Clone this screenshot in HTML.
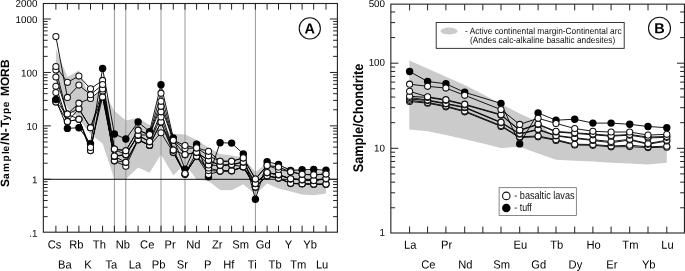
<!DOCTYPE html>
<html lang="en"><head><meta charset="utf-8"><title>Trace element diagrams</title>
<style>html,body{margin:0;padding:0;background:#fff}svg{display:block}</style></head>
<body>
<svg width="685" height="271" viewBox="0 0 685 271" font-family="'Liberation Sans', sans-serif" text-rendering="geometricPrecision">
<rect x="0" y="0" width="685" height="271" fill="#ffffff"/>
<polygon fill="#cbcbcb" points="55.9,49 67.4,77 78.9,70.4 90.5,99 102.6,90 114.4,110.8 125.8,120.4 138.1,117.8 149.6,125 161,129 173.3,133.8 185,134.6 196.6,139.7 208.5,147.5 220.1,154 231.6,155.5 243.3,157.5 255.4,172 267.1,163 278.5,166 290.6,168 302.1,170 313.7,171 326,172 326,193.4 313.7,195.2 302.1,194.5 290.6,191.5 278.5,188.6 267.1,183.4 255.4,194.5 243.3,184.2 231.6,190.3 220.1,190 208.5,181 196.6,179.5 185,164 173.3,175.5 161,154.5 149.6,172.7 138.1,167.5 125.8,179.3 114.4,179.3 102.6,143.5 90.5,134 78.9,119 67.4,108 55.9,84"/>
<line x1="114.4" y1="3.5" x2="114.4" y2="232.2" stroke="#989898" stroke-width="1"/>
<line x1="125.8" y1="3.5" x2="125.8" y2="232.2" stroke="#989898" stroke-width="1"/>
<line x1="161" y1="3.5" x2="161" y2="232.2" stroke="#989898" stroke-width="1"/>
<line x1="185" y1="3.5" x2="185" y2="232.2" stroke="#989898" stroke-width="1"/>
<line x1="255.4" y1="3.5" x2="255.4" y2="232.2" stroke="#989898" stroke-width="1"/>
<line x1="43.35" y1="179.3" x2="337.4" y2="179.3" stroke="#111" stroke-width="1"/>
<rect x="43.35" y="3.5" width="294.05" height="228.7" fill="none" stroke="#222" stroke-width="1.1"/>
<path d="M55.9,3.5v6.2M55.9,232.2v-6.5M67.4,3.5v6.2M67.4,232.2v-6.5M78.9,3.5v6.2M78.9,232.2v-6.5M90.5,3.5v6.2M90.5,232.2v-6.5M102.6,3.5v6.2M102.6,232.2v-6.5M114.4,3.5v6.2M114.4,232.2v-6.5M125.8,3.5v6.2M125.8,232.2v-6.5M138.1,3.5v6.2M138.1,232.2v-6.5M149.6,3.5v6.2M149.6,232.2v-6.5M161,3.5v6.2M161,232.2v-6.5M173.3,3.5v6.2M173.3,232.2v-6.5M185,3.5v6.2M185,232.2v-6.5M196.6,3.5v6.2M196.6,232.2v-6.5M208.5,3.5v6.2M208.5,232.2v-6.5M220.1,3.5v6.2M220.1,232.2v-6.5M231.6,3.5v6.2M231.6,232.2v-6.5M243.3,3.5v6.2M243.3,232.2v-6.5M255.4,3.5v6.2M255.4,232.2v-6.5M267.1,3.5v6.2M267.1,232.2v-6.5M278.5,3.5v6.2M278.5,232.2v-6.5M290.6,3.5v6.2M290.6,232.2v-6.5M302.1,3.5v6.2M302.1,232.2v-6.5M313.7,3.5v6.2M313.7,232.2v-6.5M326,3.5v6.2M326,232.2v-6.5M43.35,216.65h4.3M337.4,216.65h-4.3M43.35,207.24h4.3M337.4,207.24h-4.3M43.35,200.56h4.3M337.4,200.56h-4.3M43.35,195.38h4.3M337.4,195.38h-4.3M43.35,191.15h4.3M337.4,191.15h-4.3M43.35,187.58h4.3M337.4,187.58h-4.3M43.35,184.48h4.3M337.4,184.48h-4.3M43.35,181.74h4.3M337.4,181.74h-4.3M43.35,179.3h7.5M337.4,179.3h-7.5M43.35,163.22h4.3M337.4,163.22h-4.3M43.35,153.81h4.3M337.4,153.81h-4.3M43.35,147.13h4.3M337.4,147.13h-4.3M43.35,141.95h4.3M337.4,141.95h-4.3M43.35,137.72h4.3M337.4,137.72h-4.3M43.35,134.15h4.3M337.4,134.15h-4.3M43.35,131.05h4.3M337.4,131.05h-4.3M43.35,128.31h4.3M337.4,128.31h-4.3M43.35,125.87h7.5M337.4,125.87h-7.5M43.35,109.79h4.3M337.4,109.79h-4.3M43.35,100.38h4.3M337.4,100.38h-4.3M43.35,93.7h4.3M337.4,93.7h-4.3M43.35,88.52h4.3M337.4,88.52h-4.3M43.35,84.29h4.3M337.4,84.29h-4.3M43.35,80.72h4.3M337.4,80.72h-4.3M43.35,77.62h4.3M337.4,77.62h-4.3M43.35,74.88h4.3M337.4,74.88h-4.3M43.35,72.44h7.5M337.4,72.44h-7.5M43.35,56.36h4.3M337.4,56.36h-4.3M43.35,46.95h4.3M337.4,46.95h-4.3M43.35,40.27h4.3M337.4,40.27h-4.3M43.35,35.09h4.3M337.4,35.09h-4.3M43.35,30.86h4.3M337.4,30.86h-4.3M43.35,27.29h4.3M337.4,27.29h-4.3M43.35,24.19h4.3M337.4,24.19h-4.3M43.35,21.45h4.3M337.4,21.45h-4.3M43.35,19.01h7.5M337.4,19.01h-7.5" stroke="#222" stroke-width="1" fill="none"/>
<polyline points="55.9,99.6 67.4,128.4 78.9,127.7 90.5,143.8 102.6,68.4 114.4,134 125.8,139 138.1,122 149.6,131.6 161,84.7 173.3,138 185,169.2 196.6,144.2 208.5,176.8 220.1,142.7 231.6,143.1 243.3,153.9 255.4,199.2 267.1,161.8 278.5,164.4 290.6,170.5 302.1,169.8 313.7,169.4 326,170.3" fill="none" stroke="#000" stroke-width="0.9"/>
<circle cx="55.9" cy="99.6" r="3.7" fill="#000"/>
<circle cx="67.4" cy="128.4" r="3.7" fill="#000"/>
<circle cx="78.9" cy="127.7" r="3.7" fill="#000"/>
<circle cx="90.5" cy="143.8" r="3.7" fill="#000"/>
<circle cx="102.6" cy="68.4" r="3.7" fill="#000"/>
<circle cx="114.4" cy="134" r="3.7" fill="#000"/>
<circle cx="125.8" cy="139" r="3.7" fill="#000"/>
<circle cx="138.1" cy="122" r="3.7" fill="#000"/>
<circle cx="149.6" cy="131.6" r="3.7" fill="#000"/>
<circle cx="161" cy="84.7" r="3.7" fill="#000"/>
<circle cx="173.3" cy="138" r="3.7" fill="#000"/>
<circle cx="185" cy="169.2" r="3.7" fill="#000"/>
<circle cx="196.6" cy="144.2" r="3.7" fill="#000"/>
<circle cx="208.5" cy="176.8" r="3.7" fill="#000"/>
<circle cx="220.1" cy="142.7" r="3.7" fill="#000"/>
<circle cx="231.6" cy="143.1" r="3.7" fill="#000"/>
<circle cx="243.3" cy="153.9" r="3.7" fill="#000"/>
<circle cx="255.4" cy="199.2" r="3.7" fill="#000"/>
<circle cx="267.1" cy="161.8" r="3.7" fill="#000"/>
<circle cx="278.5" cy="164.4" r="3.7" fill="#000"/>
<circle cx="290.6" cy="170.5" r="3.7" fill="#000"/>
<circle cx="302.1" cy="169.8" r="3.7" fill="#000"/>
<circle cx="313.7" cy="169.4" r="3.7" fill="#000"/>
<circle cx="326" cy="170.3" r="3.7" fill="#000"/>
<polyline points="55.9,102 67.4,114.1 78.9,119.3 90.5,150.6 102.6,89 114.4,161 125.8,166.2 138.1,140 149.6,145.5 161,132.7 173.3,152.6 185,174.3 196.6,156.6 208.5,174.4 220.1,171.3 231.6,171 243.3,167 255.4,187.3 267.1,176 278.5,178.3 290.6,183.6 302.1,184 313.7,184.4 326,184.4" fill="none" stroke="#000" stroke-width="0.9"/>
<polyline points="55.9,102 67.4,121.5 78.9,119.3 90.5,150.6 102.6,91 114.4,160.6 125.8,162.3 138.1,139.6 149.6,145.5 161,122.6 173.3,152.3 185,174.3 196.6,156.3 208.5,170.6 220.1,171 231.6,170.7 243.3,167 255.4,187 267.1,175.8 278.5,178 290.6,183.3 302.1,183.7 313.7,184.1 326,184.1" fill="none" stroke="#000" stroke-width="0.9"/>
<polyline points="55.9,92.5 67.4,121.5 78.9,119.3 90.5,147.4 102.6,97 114.4,156.4 125.8,162.3 138.1,139.6 149.6,145 161,122.1 173.3,150.3 185,174.3 196.6,156.3 208.5,168 220.1,171 231.6,170.7 243.3,166.7 255.4,187 267.1,175.8 278.5,178 290.6,183.3 302.1,183.7 313.7,184.1 326,184.1" fill="none" stroke="#000" stroke-width="0.9"/>
<polyline points="55.9,86.3 67.4,121.5 78.9,108.8 90.5,127.7 102.6,97 114.4,156.4 125.8,154.9 138.1,135.3 149.6,142 161,117 173.3,150 185,173.6 196.6,152.6 208.5,165 220.1,165.6 231.6,164.8 243.3,166.7 255.4,183.7 267.1,172.8 278.5,174.9 290.6,179.1 302.1,179.9 313.7,180.7 326,178.9" fill="none" stroke="#000" stroke-width="0.9"/>
<polyline points="55.9,77 67.4,114.1 78.9,108.8 90.5,127.7 102.6,91 114.4,156 125.8,154.5 138.1,135.3 149.6,141.6 161,111.8 173.3,150 185,154.8 196.6,152.3 208.5,160.6 220.1,165.3 231.6,164.8 243.3,162.3 255.4,183.4 267.1,172.5 278.5,174.6 290.6,178.8 302.1,179.6 313.7,180.4 326,178.6" fill="none" stroke="#000" stroke-width="0.9"/>
<polyline points="55.9,69.9 67.4,114.1 78.9,103.2 90.5,98.4 102.6,89 114.4,149.5 125.8,154.5 138.1,135 149.6,135 161,106.3 173.3,140.5 185,154.5 196.6,152.3 208.5,160.3 220.1,165.3 231.6,164.5 243.3,162 255.4,183.4 267.1,172.5 278.5,174.6 290.6,178.8 302.1,179.6 313.7,180.4 326,178.6" fill="none" stroke="#000" stroke-width="0.9"/>
<polyline points="55.9,66.5 67.4,82.3 78.9,76.1 90.5,88.8 102.6,80.4 114.4,149.1 125.8,150.7 138.1,130.2 149.6,135 161,101.3 173.3,140.5 185,148.6 196.6,147.9 208.5,155.8 220.1,161.2 231.6,161.3 243.3,157.9 255.4,179 267.1,165.4 278.5,169.4 290.6,171.8 302.1,174.3 313.7,174.9 326,174" fill="none" stroke="#000" stroke-width="0.9"/>
<polyline points="55.9,36.6 67.4,97.4 78.9,85.1 90.5,94.7 102.6,84.5 114.4,149.1 125.8,150.7 138.1,130.2 149.6,134.6 161,93.2 173.3,140.2 185,145.6 196.6,147.9 208.5,151.3 220.1,161.2 231.6,161.3 243.3,157.9 255.4,179 267.1,165.4 278.5,167.1 290.6,171.8 302.1,174.3 313.7,174.9 326,174" fill="none" stroke="#000" stroke-width="0.9"/>
<circle cx="55.9" cy="102" r="3.05" fill="#fff" stroke="#111" stroke-width="1.05"/>
<circle cx="67.4" cy="114.1" r="3.05" fill="#fff" stroke="#111" stroke-width="1.05"/>
<circle cx="78.9" cy="119.3" r="3.05" fill="#fff" stroke="#111" stroke-width="1.05"/>
<circle cx="90.5" cy="150.6" r="3.05" fill="#fff" stroke="#111" stroke-width="1.05"/>
<circle cx="102.6" cy="89" r="3.05" fill="#fff" stroke="#111" stroke-width="1.05"/>
<circle cx="114.4" cy="161" r="3.05" fill="#fff" stroke="#111" stroke-width="1.05"/>
<circle cx="125.8" cy="166.2" r="3.05" fill="#fff" stroke="#111" stroke-width="1.05"/>
<circle cx="138.1" cy="140" r="3.05" fill="#fff" stroke="#111" stroke-width="1.05"/>
<circle cx="149.6" cy="145.5" r="3.05" fill="#fff" stroke="#111" stroke-width="1.05"/>
<circle cx="161" cy="132.7" r="3.05" fill="#fff" stroke="#111" stroke-width="1.05"/>
<circle cx="173.3" cy="152.6" r="3.05" fill="#fff" stroke="#111" stroke-width="1.05"/>
<circle cx="185" cy="174.3" r="3.05" fill="#fff" stroke="#111" stroke-width="1.05"/>
<circle cx="196.6" cy="156.6" r="3.05" fill="#fff" stroke="#111" stroke-width="1.05"/>
<circle cx="208.5" cy="174.4" r="3.05" fill="#fff" stroke="#111" stroke-width="1.05"/>
<circle cx="220.1" cy="171.3" r="3.05" fill="#fff" stroke="#111" stroke-width="1.05"/>
<circle cx="231.6" cy="171" r="3.05" fill="#fff" stroke="#111" stroke-width="1.05"/>
<circle cx="243.3" cy="167" r="3.05" fill="#fff" stroke="#111" stroke-width="1.05"/>
<circle cx="255.4" cy="187.3" r="3.05" fill="#fff" stroke="#111" stroke-width="1.05"/>
<circle cx="267.1" cy="176" r="3.05" fill="#fff" stroke="#111" stroke-width="1.05"/>
<circle cx="278.5" cy="178.3" r="3.05" fill="#fff" stroke="#111" stroke-width="1.05"/>
<circle cx="290.6" cy="183.6" r="3.05" fill="#fff" stroke="#111" stroke-width="1.05"/>
<circle cx="302.1" cy="184" r="3.05" fill="#fff" stroke="#111" stroke-width="1.05"/>
<circle cx="313.7" cy="184.4" r="3.05" fill="#fff" stroke="#111" stroke-width="1.05"/>
<circle cx="326" cy="184.4" r="3.05" fill="#fff" stroke="#111" stroke-width="1.05"/>
<circle cx="55.9" cy="102" r="3.05" fill="#fff" stroke="#111" stroke-width="1.05"/>
<circle cx="67.4" cy="121.5" r="3.05" fill="#fff" stroke="#111" stroke-width="1.05"/>
<circle cx="78.9" cy="119.3" r="3.05" fill="#fff" stroke="#111" stroke-width="1.05"/>
<circle cx="90.5" cy="150.6" r="3.05" fill="#fff" stroke="#111" stroke-width="1.05"/>
<circle cx="102.6" cy="91" r="3.05" fill="#fff" stroke="#111" stroke-width="1.05"/>
<circle cx="114.4" cy="160.6" r="3.05" fill="#fff" stroke="#111" stroke-width="1.05"/>
<circle cx="125.8" cy="162.3" r="3.05" fill="#fff" stroke="#111" stroke-width="1.05"/>
<circle cx="138.1" cy="139.6" r="3.05" fill="#fff" stroke="#111" stroke-width="1.05"/>
<circle cx="149.6" cy="145.5" r="3.05" fill="#fff" stroke="#111" stroke-width="1.05"/>
<circle cx="161" cy="122.6" r="3.05" fill="#fff" stroke="#111" stroke-width="1.05"/>
<circle cx="173.3" cy="152.3" r="3.05" fill="#fff" stroke="#111" stroke-width="1.05"/>
<circle cx="185" cy="174.3" r="3.05" fill="#fff" stroke="#111" stroke-width="1.05"/>
<circle cx="196.6" cy="156.3" r="3.05" fill="#fff" stroke="#111" stroke-width="1.05"/>
<circle cx="208.5" cy="170.6" r="3.05" fill="#fff" stroke="#111" stroke-width="1.05"/>
<circle cx="220.1" cy="171" r="3.05" fill="#fff" stroke="#111" stroke-width="1.05"/>
<circle cx="231.6" cy="170.7" r="3.05" fill="#fff" stroke="#111" stroke-width="1.05"/>
<circle cx="243.3" cy="167" r="3.05" fill="#fff" stroke="#111" stroke-width="1.05"/>
<circle cx="255.4" cy="187" r="3.05" fill="#fff" stroke="#111" stroke-width="1.05"/>
<circle cx="267.1" cy="175.8" r="3.05" fill="#fff" stroke="#111" stroke-width="1.05"/>
<circle cx="278.5" cy="178" r="3.05" fill="#fff" stroke="#111" stroke-width="1.05"/>
<circle cx="290.6" cy="183.3" r="3.05" fill="#fff" stroke="#111" stroke-width="1.05"/>
<circle cx="302.1" cy="183.7" r="3.05" fill="#fff" stroke="#111" stroke-width="1.05"/>
<circle cx="313.7" cy="184.1" r="3.05" fill="#fff" stroke="#111" stroke-width="1.05"/>
<circle cx="326" cy="184.1" r="3.05" fill="#fff" stroke="#111" stroke-width="1.05"/>
<circle cx="55.9" cy="92.5" r="3.05" fill="#fff" stroke="#111" stroke-width="1.05"/>
<circle cx="67.4" cy="121.5" r="3.05" fill="#fff" stroke="#111" stroke-width="1.05"/>
<circle cx="78.9" cy="119.3" r="3.05" fill="#fff" stroke="#111" stroke-width="1.05"/>
<circle cx="90.5" cy="147.4" r="3.05" fill="#fff" stroke="#111" stroke-width="1.05"/>
<circle cx="102.6" cy="97" r="3.05" fill="#fff" stroke="#111" stroke-width="1.05"/>
<circle cx="114.4" cy="156.4" r="3.05" fill="#fff" stroke="#111" stroke-width="1.05"/>
<circle cx="125.8" cy="162.3" r="3.05" fill="#fff" stroke="#111" stroke-width="1.05"/>
<circle cx="138.1" cy="139.6" r="3.05" fill="#fff" stroke="#111" stroke-width="1.05"/>
<circle cx="149.6" cy="145" r="3.05" fill="#fff" stroke="#111" stroke-width="1.05"/>
<circle cx="161" cy="122.1" r="3.05" fill="#fff" stroke="#111" stroke-width="1.05"/>
<circle cx="173.3" cy="150.3" r="3.05" fill="#fff" stroke="#111" stroke-width="1.05"/>
<circle cx="185" cy="174.3" r="3.05" fill="#fff" stroke="#111" stroke-width="1.05"/>
<circle cx="196.6" cy="156.3" r="3.05" fill="#fff" stroke="#111" stroke-width="1.05"/>
<circle cx="208.5" cy="168" r="3.05" fill="#fff" stroke="#111" stroke-width="1.05"/>
<circle cx="220.1" cy="171" r="3.05" fill="#fff" stroke="#111" stroke-width="1.05"/>
<circle cx="231.6" cy="170.7" r="3.05" fill="#fff" stroke="#111" stroke-width="1.05"/>
<circle cx="243.3" cy="166.7" r="3.05" fill="#fff" stroke="#111" stroke-width="1.05"/>
<circle cx="255.4" cy="187" r="3.05" fill="#fff" stroke="#111" stroke-width="1.05"/>
<circle cx="267.1" cy="175.8" r="3.05" fill="#fff" stroke="#111" stroke-width="1.05"/>
<circle cx="278.5" cy="178" r="3.05" fill="#fff" stroke="#111" stroke-width="1.05"/>
<circle cx="290.6" cy="183.3" r="3.05" fill="#fff" stroke="#111" stroke-width="1.05"/>
<circle cx="302.1" cy="183.7" r="3.05" fill="#fff" stroke="#111" stroke-width="1.05"/>
<circle cx="313.7" cy="184.1" r="3.05" fill="#fff" stroke="#111" stroke-width="1.05"/>
<circle cx="326" cy="184.1" r="3.05" fill="#fff" stroke="#111" stroke-width="1.05"/>
<circle cx="55.9" cy="86.3" r="3.05" fill="#fff" stroke="#111" stroke-width="1.05"/>
<circle cx="67.4" cy="121.5" r="3.05" fill="#fff" stroke="#111" stroke-width="1.05"/>
<circle cx="78.9" cy="108.8" r="3.05" fill="#fff" stroke="#111" stroke-width="1.05"/>
<circle cx="90.5" cy="127.7" r="3.05" fill="#fff" stroke="#111" stroke-width="1.05"/>
<circle cx="102.6" cy="97" r="3.05" fill="#fff" stroke="#111" stroke-width="1.05"/>
<circle cx="114.4" cy="156.4" r="3.05" fill="#fff" stroke="#111" stroke-width="1.05"/>
<circle cx="125.8" cy="154.9" r="3.05" fill="#fff" stroke="#111" stroke-width="1.05"/>
<circle cx="138.1" cy="135.3" r="3.05" fill="#fff" stroke="#111" stroke-width="1.05"/>
<circle cx="149.6" cy="142" r="3.05" fill="#fff" stroke="#111" stroke-width="1.05"/>
<circle cx="161" cy="117" r="3.05" fill="#fff" stroke="#111" stroke-width="1.05"/>
<circle cx="173.3" cy="150" r="3.05" fill="#fff" stroke="#111" stroke-width="1.05"/>
<circle cx="185" cy="173.6" r="3.05" fill="#fff" stroke="#111" stroke-width="1.05"/>
<circle cx="196.6" cy="152.6" r="3.05" fill="#fff" stroke="#111" stroke-width="1.05"/>
<circle cx="208.5" cy="165" r="3.05" fill="#fff" stroke="#111" stroke-width="1.05"/>
<circle cx="220.1" cy="165.6" r="3.05" fill="#fff" stroke="#111" stroke-width="1.05"/>
<circle cx="231.6" cy="164.8" r="3.05" fill="#fff" stroke="#111" stroke-width="1.05"/>
<circle cx="243.3" cy="166.7" r="3.05" fill="#fff" stroke="#111" stroke-width="1.05"/>
<circle cx="255.4" cy="183.7" r="3.05" fill="#fff" stroke="#111" stroke-width="1.05"/>
<circle cx="267.1" cy="172.8" r="3.05" fill="#fff" stroke="#111" stroke-width="1.05"/>
<circle cx="278.5" cy="174.9" r="3.05" fill="#fff" stroke="#111" stroke-width="1.05"/>
<circle cx="290.6" cy="179.1" r="3.05" fill="#fff" stroke="#111" stroke-width="1.05"/>
<circle cx="302.1" cy="179.9" r="3.05" fill="#fff" stroke="#111" stroke-width="1.05"/>
<circle cx="313.7" cy="180.7" r="3.05" fill="#fff" stroke="#111" stroke-width="1.05"/>
<circle cx="326" cy="178.9" r="3.05" fill="#fff" stroke="#111" stroke-width="1.05"/>
<circle cx="55.9" cy="77" r="3.05" fill="#fff" stroke="#111" stroke-width="1.05"/>
<circle cx="67.4" cy="114.1" r="3.05" fill="#fff" stroke="#111" stroke-width="1.05"/>
<circle cx="78.9" cy="108.8" r="3.05" fill="#fff" stroke="#111" stroke-width="1.05"/>
<circle cx="90.5" cy="127.7" r="3.05" fill="#fff" stroke="#111" stroke-width="1.05"/>
<circle cx="102.6" cy="91" r="3.05" fill="#fff" stroke="#111" stroke-width="1.05"/>
<circle cx="114.4" cy="156" r="3.05" fill="#fff" stroke="#111" stroke-width="1.05"/>
<circle cx="125.8" cy="154.5" r="3.05" fill="#fff" stroke="#111" stroke-width="1.05"/>
<circle cx="138.1" cy="135.3" r="3.05" fill="#fff" stroke="#111" stroke-width="1.05"/>
<circle cx="149.6" cy="141.6" r="3.05" fill="#fff" stroke="#111" stroke-width="1.05"/>
<circle cx="161" cy="111.8" r="3.05" fill="#fff" stroke="#111" stroke-width="1.05"/>
<circle cx="173.3" cy="150" r="3.05" fill="#fff" stroke="#111" stroke-width="1.05"/>
<circle cx="185" cy="154.8" r="3.05" fill="#fff" stroke="#111" stroke-width="1.05"/>
<circle cx="196.6" cy="152.3" r="3.05" fill="#fff" stroke="#111" stroke-width="1.05"/>
<circle cx="208.5" cy="160.6" r="3.05" fill="#fff" stroke="#111" stroke-width="1.05"/>
<circle cx="220.1" cy="165.3" r="3.05" fill="#fff" stroke="#111" stroke-width="1.05"/>
<circle cx="231.6" cy="164.8" r="3.05" fill="#fff" stroke="#111" stroke-width="1.05"/>
<circle cx="243.3" cy="162.3" r="3.05" fill="#fff" stroke="#111" stroke-width="1.05"/>
<circle cx="255.4" cy="183.4" r="3.05" fill="#fff" stroke="#111" stroke-width="1.05"/>
<circle cx="267.1" cy="172.5" r="3.05" fill="#fff" stroke="#111" stroke-width="1.05"/>
<circle cx="278.5" cy="174.6" r="3.05" fill="#fff" stroke="#111" stroke-width="1.05"/>
<circle cx="290.6" cy="178.8" r="3.05" fill="#fff" stroke="#111" stroke-width="1.05"/>
<circle cx="302.1" cy="179.6" r="3.05" fill="#fff" stroke="#111" stroke-width="1.05"/>
<circle cx="313.7" cy="180.4" r="3.05" fill="#fff" stroke="#111" stroke-width="1.05"/>
<circle cx="326" cy="178.6" r="3.05" fill="#fff" stroke="#111" stroke-width="1.05"/>
<circle cx="55.9" cy="69.9" r="3.05" fill="#fff" stroke="#111" stroke-width="1.05"/>
<circle cx="67.4" cy="114.1" r="3.05" fill="#fff" stroke="#111" stroke-width="1.05"/>
<circle cx="78.9" cy="103.2" r="3.05" fill="#fff" stroke="#111" stroke-width="1.05"/>
<circle cx="90.5" cy="98.4" r="3.05" fill="#fff" stroke="#111" stroke-width="1.05"/>
<circle cx="102.6" cy="89" r="3.05" fill="#fff" stroke="#111" stroke-width="1.05"/>
<circle cx="114.4" cy="149.5" r="3.05" fill="#fff" stroke="#111" stroke-width="1.05"/>
<circle cx="125.8" cy="154.5" r="3.05" fill="#fff" stroke="#111" stroke-width="1.05"/>
<circle cx="138.1" cy="135" r="3.05" fill="#fff" stroke="#111" stroke-width="1.05"/>
<circle cx="149.6" cy="135" r="3.05" fill="#fff" stroke="#111" stroke-width="1.05"/>
<circle cx="161" cy="106.3" r="3.05" fill="#fff" stroke="#111" stroke-width="1.05"/>
<circle cx="173.3" cy="140.5" r="3.05" fill="#fff" stroke="#111" stroke-width="1.05"/>
<circle cx="185" cy="154.5" r="3.05" fill="#fff" stroke="#111" stroke-width="1.05"/>
<circle cx="196.6" cy="152.3" r="3.05" fill="#fff" stroke="#111" stroke-width="1.05"/>
<circle cx="208.5" cy="160.3" r="3.05" fill="#fff" stroke="#111" stroke-width="1.05"/>
<circle cx="220.1" cy="165.3" r="3.05" fill="#fff" stroke="#111" stroke-width="1.05"/>
<circle cx="231.6" cy="164.5" r="3.05" fill="#fff" stroke="#111" stroke-width="1.05"/>
<circle cx="243.3" cy="162" r="3.05" fill="#fff" stroke="#111" stroke-width="1.05"/>
<circle cx="255.4" cy="183.4" r="3.05" fill="#fff" stroke="#111" stroke-width="1.05"/>
<circle cx="267.1" cy="172.5" r="3.05" fill="#fff" stroke="#111" stroke-width="1.05"/>
<circle cx="278.5" cy="174.6" r="3.05" fill="#fff" stroke="#111" stroke-width="1.05"/>
<circle cx="290.6" cy="178.8" r="3.05" fill="#fff" stroke="#111" stroke-width="1.05"/>
<circle cx="302.1" cy="179.6" r="3.05" fill="#fff" stroke="#111" stroke-width="1.05"/>
<circle cx="313.7" cy="180.4" r="3.05" fill="#fff" stroke="#111" stroke-width="1.05"/>
<circle cx="326" cy="178.6" r="3.05" fill="#fff" stroke="#111" stroke-width="1.05"/>
<circle cx="55.9" cy="66.5" r="3.05" fill="#fff" stroke="#111" stroke-width="1.05"/>
<circle cx="67.4" cy="82.3" r="3.05" fill="#fff" stroke="#111" stroke-width="1.05"/>
<circle cx="78.9" cy="76.1" r="3.05" fill="#fff" stroke="#111" stroke-width="1.05"/>
<circle cx="90.5" cy="88.8" r="3.05" fill="#fff" stroke="#111" stroke-width="1.05"/>
<circle cx="102.6" cy="80.4" r="3.05" fill="#fff" stroke="#111" stroke-width="1.05"/>
<circle cx="114.4" cy="149.1" r="3.05" fill="#fff" stroke="#111" stroke-width="1.05"/>
<circle cx="125.8" cy="150.7" r="3.05" fill="#fff" stroke="#111" stroke-width="1.05"/>
<circle cx="138.1" cy="130.2" r="3.05" fill="#fff" stroke="#111" stroke-width="1.05"/>
<circle cx="149.6" cy="135" r="3.05" fill="#fff" stroke="#111" stroke-width="1.05"/>
<circle cx="161" cy="101.3" r="3.05" fill="#fff" stroke="#111" stroke-width="1.05"/>
<circle cx="173.3" cy="140.5" r="3.05" fill="#fff" stroke="#111" stroke-width="1.05"/>
<circle cx="185" cy="148.6" r="3.05" fill="#fff" stroke="#111" stroke-width="1.05"/>
<circle cx="196.6" cy="147.9" r="3.05" fill="#fff" stroke="#111" stroke-width="1.05"/>
<circle cx="208.5" cy="155.8" r="3.05" fill="#fff" stroke="#111" stroke-width="1.05"/>
<circle cx="220.1" cy="161.2" r="3.05" fill="#fff" stroke="#111" stroke-width="1.05"/>
<circle cx="231.6" cy="161.3" r="3.05" fill="#fff" stroke="#111" stroke-width="1.05"/>
<circle cx="243.3" cy="157.9" r="3.05" fill="#fff" stroke="#111" stroke-width="1.05"/>
<circle cx="255.4" cy="179" r="3.05" fill="#fff" stroke="#111" stroke-width="1.05"/>
<circle cx="267.1" cy="165.4" r="3.05" fill="#fff" stroke="#111" stroke-width="1.05"/>
<circle cx="278.5" cy="169.4" r="3.05" fill="#fff" stroke="#111" stroke-width="1.05"/>
<circle cx="290.6" cy="171.8" r="3.05" fill="#fff" stroke="#111" stroke-width="1.05"/>
<circle cx="302.1" cy="174.3" r="3.05" fill="#fff" stroke="#111" stroke-width="1.05"/>
<circle cx="313.7" cy="174.9" r="3.05" fill="#fff" stroke="#111" stroke-width="1.05"/>
<circle cx="326" cy="174" r="3.05" fill="#fff" stroke="#111" stroke-width="1.05"/>
<circle cx="55.9" cy="36.6" r="3.05" fill="#fff" stroke="#111" stroke-width="1.05"/>
<circle cx="67.4" cy="97.4" r="3.05" fill="#fff" stroke="#111" stroke-width="1.05"/>
<circle cx="78.9" cy="85.1" r="3.05" fill="#fff" stroke="#111" stroke-width="1.05"/>
<circle cx="90.5" cy="94.7" r="3.05" fill="#fff" stroke="#111" stroke-width="1.05"/>
<circle cx="102.6" cy="84.5" r="3.05" fill="#fff" stroke="#111" stroke-width="1.05"/>
<circle cx="114.4" cy="149.1" r="3.05" fill="#fff" stroke="#111" stroke-width="1.05"/>
<circle cx="125.8" cy="150.7" r="3.05" fill="#fff" stroke="#111" stroke-width="1.05"/>
<circle cx="138.1" cy="130.2" r="3.05" fill="#fff" stroke="#111" stroke-width="1.05"/>
<circle cx="149.6" cy="134.6" r="3.05" fill="#fff" stroke="#111" stroke-width="1.05"/>
<circle cx="161" cy="93.2" r="3.05" fill="#fff" stroke="#111" stroke-width="1.05"/>
<circle cx="173.3" cy="140.2" r="3.05" fill="#fff" stroke="#111" stroke-width="1.05"/>
<circle cx="185" cy="145.6" r="3.05" fill="#fff" stroke="#111" stroke-width="1.05"/>
<circle cx="196.6" cy="147.9" r="3.05" fill="#fff" stroke="#111" stroke-width="1.05"/>
<circle cx="208.5" cy="151.3" r="3.05" fill="#fff" stroke="#111" stroke-width="1.05"/>
<circle cx="220.1" cy="161.2" r="3.05" fill="#fff" stroke="#111" stroke-width="1.05"/>
<circle cx="231.6" cy="161.3" r="3.05" fill="#fff" stroke="#111" stroke-width="1.05"/>
<circle cx="243.3" cy="157.9" r="3.05" fill="#fff" stroke="#111" stroke-width="1.05"/>
<circle cx="255.4" cy="179" r="3.05" fill="#fff" stroke="#111" stroke-width="1.05"/>
<circle cx="267.1" cy="165.4" r="3.05" fill="#fff" stroke="#111" stroke-width="1.05"/>
<circle cx="278.5" cy="167.1" r="3.05" fill="#fff" stroke="#111" stroke-width="1.05"/>
<circle cx="290.6" cy="171.8" r="3.05" fill="#fff" stroke="#111" stroke-width="1.05"/>
<circle cx="302.1" cy="174.3" r="3.05" fill="#fff" stroke="#111" stroke-width="1.05"/>
<circle cx="313.7" cy="174.9" r="3.05" fill="#fff" stroke="#111" stroke-width="1.05"/>
<circle cx="326" cy="174" r="3.05" fill="#fff" stroke="#111" stroke-width="1.05"/>
<circle cx="55.9" cy="99.6" r="3.7" fill="#000"/>
<text transform="matrix(0.945 0.0005 0 1 54.6 248.5)" font-size="11.8" text-anchor="middle" fill="#000">Cs</text>
<text transform="matrix(0.945 0.0005 0 1 64.9 268.4)" font-size="11.8" text-anchor="middle" fill="#000">Ba</text>
<text transform="matrix(0.945 0.0005 0 1 76.35 248.5)" font-size="11.8" text-anchor="middle" fill="#000">Rb</text>
<text transform="matrix(0.945 0.0005 0 1 88.05 268.4)" font-size="11.8" text-anchor="middle" fill="#000">K</text>
<text transform="matrix(0.945 0.0005 0 1 99.35 248.5)" font-size="11.8" text-anchor="middle" fill="#000">Th</text>
<text transform="matrix(0.945 0.0005 0 1 111.4 268.4)" font-size="11.8" text-anchor="middle" fill="#000">Ta</text>
<text transform="matrix(0.945 0.0005 0 1 122.85 248.5)" font-size="11.8" text-anchor="middle" fill="#000">Nb</text>
<text transform="matrix(0.945 0.0005 0 1 135 268.4)" font-size="11.8" text-anchor="middle" fill="#000">La</text>
<text transform="matrix(0.945 0.0005 0 1 147.25 248.5)" font-size="11.8" text-anchor="middle" fill="#000">Ce</text>
<text transform="matrix(0.945 0.0005 0 1 158.6 268.4)" font-size="11.8" text-anchor="middle" fill="#000">Pb</text>
<text transform="matrix(0.945 0.0005 0 1 170.15 248.5)" font-size="11.8" text-anchor="middle" fill="#000">Pr</text>
<text transform="matrix(0.945 0.0005 0 1 182.35 268.4)" font-size="11.8" text-anchor="middle" fill="#000">Sr</text>
<text transform="matrix(0.945 0.0005 0 1 193.35 248.5)" font-size="11.8" text-anchor="middle" fill="#000">Nd</text>
<text transform="matrix(0.945 0.0005 0 1 207.8 268.4)" font-size="11.8" text-anchor="middle" fill="#000">P</text>
<text transform="matrix(0.945 0.0005 0 1 217.25 248.5)" font-size="11.8" text-anchor="middle" fill="#000">Zr</text>
<text transform="matrix(0.945 0.0005 0 1 228.85 268.4)" font-size="11.8" text-anchor="middle" fill="#000">Hf</text>
<text transform="matrix(0.945 0.0005 0 1 240.55 248.5)" font-size="11.8" text-anchor="middle" fill="#000">Sm</text>
<text transform="matrix(0.945 0.0005 0 1 252.2 268.4)" font-size="11.8" text-anchor="middle" fill="#000">Ti</text>
<text transform="matrix(0.945 0.0005 0 1 263.2 248.5)" font-size="11.8" text-anchor="middle" fill="#000">Gd</text>
<text transform="matrix(0.945 0.0005 0 1 275.1 268.4)" font-size="11.8" text-anchor="middle" fill="#000">Tb</text>
<text transform="matrix(0.945 0.0005 0 1 288.4 248.5)" font-size="11.8" text-anchor="middle" fill="#000">Y</text>
<text transform="matrix(0.945 0.0005 0 1 298.25 268.4)" font-size="11.8" text-anchor="middle" fill="#000">Tm</text>
<text transform="matrix(0.945 0.0005 0 1 310.15 248.5)" font-size="11.8" text-anchor="middle" fill="#000">Yb</text>
<text transform="matrix(0.945 0.0005 0 1 322.1 268.4)" font-size="11.8" text-anchor="middle" fill="#000">Lu</text>
<text transform="matrix(1.0 0.0005 0 1 37.4 6.65)" font-size="9.8" text-anchor="end" fill="#000">2000</text>
<text transform="matrix(1.0 0.0005 0 1 37.4 23.1)" font-size="9.8" text-anchor="end" fill="#000">1000</text>
<text transform="matrix(1.0 0.0005 0 1 37.4 76.6)" font-size="9.8" text-anchor="end" fill="#000">100</text>
<text transform="matrix(1.0 0.0005 0 1 37.4 129.75)" font-size="9.8" text-anchor="end" fill="#000">10</text>
<text transform="matrix(1.0 0.0005 0 1 37.4 183.2)" font-size="9.8" text-anchor="end" fill="#000">1</text>
<text transform="matrix(1.0 0.0005 0 1 37.4 236.8)" font-size="9.8" text-anchor="end" fill="#000">.1</text>
<text transform="translate(9.3,187) rotate(-90)" x="3.95 10.9 19.4 28.6 34.45 38.35 43.95 50.4 56.7 63.1 69.4 76.15 82.6 89.27 95.95 105.6 114.25 123.45" font-weight="bold" fill="#000" text-anchor="middle" font-size="12">S<tspan font-size="10">ample</tspan>/N-T<tspan font-size="10">ype</tspan> MORB</text>
<circle cx="309.8" cy="28.4" r="10.6" fill="#fff" stroke="#111" stroke-width="1.1"/>
<text transform="matrix(1.0 0.0005 0 1 309.8 33.4)" font-size="14.5" font-weight="bold" text-anchor="middle" fill="#000">A</text>
<polygon fill="#cbcbcb" points="409.3,60.6 427.6,68.6 445.9,76.8 464.7,85 482.85,94.3 501,104 519.7,113.5 538.1,122 556,139 574.7,144 592.9,145 611.1,146.5 629.7,146.5 648,147.5 666.8,147 666.8,162.7 648,164.4 629.7,163.6 611.1,162.7 592.9,161.5 574.7,160.8 556,159.8 538.1,153.4 519.7,146.8 501,148 482.85,143.5 464.7,139.3 445.9,134.9 427.6,131.2 409.3,129.5"/>
<rect x="390.85" y="4.15" width="293.6" height="228.85" fill="none" stroke="#222" stroke-width="1.1"/>
<path d="M409.6,4.15v6.2M409.6,233.0v-6.5M427.6,4.15v6.2M427.6,233.0v-6.5M445.9,4.15v6.2M445.9,233.0v-6.5M464.7,4.15v6.2M464.7,233.0v-6.5M482.85,4.15v6.2M482.85,233.0v-6.5M501,4.15v6.2M501,233.0v-6.5M519.7,4.15v6.2M519.7,233.0v-6.5M538.1,4.15v6.2M538.1,233.0v-6.5M556,4.15v6.2M556,233.0v-6.5M574.7,4.15v6.2M574.7,233.0v-6.5M592.9,4.15v6.2M592.9,233.0v-6.5M611.1,4.15v6.2M611.1,233.0v-6.5M629.7,4.15v6.2M629.7,233.0v-6.5M648,4.15v6.2M648,233.0v-6.5M666.8,4.15v6.2M666.8,233.0v-6.5M390.85,207.78h4.3M684.45,207.78h-4.3M390.85,192.8h4.3M684.45,192.8h-4.3M390.85,182.16h4.3M684.45,182.16h-4.3M390.85,173.92h4.3M684.45,173.92h-4.3M390.85,167.18h4.3M684.45,167.18h-4.3M390.85,161.48h4.3M684.45,161.48h-4.3M390.85,156.55h4.3M684.45,156.55h-4.3M390.85,152.19h4.3M684.45,152.19h-4.3M390.85,148.3h7.5M684.45,148.3h-7.5M390.85,122.68h4.3M684.45,122.68h-4.3M390.85,107.7h4.3M684.45,107.7h-4.3M390.85,97.06h4.3M684.45,97.06h-4.3M390.85,88.82h4.3M684.45,88.82h-4.3M390.85,82.08h4.3M684.45,82.08h-4.3M390.85,76.38h4.3M684.45,76.38h-4.3M390.85,71.45h4.3M684.45,71.45h-4.3M390.85,67.09h4.3M684.45,67.09h-4.3M390.85,63.2h7.5M684.45,63.2h-7.5M390.85,37.58h4.3M684.45,37.58h-4.3M390.85,22.6h4.3M684.45,22.6h-4.3M390.85,11.96h4.3M684.45,11.96h-4.3" stroke="#222" stroke-width="1" fill="none"/>
<polyline points="409.6,71.5 427.6,81.5 445.9,83.8 464.7,92.3 501,103.4 519.7,143.9 538.1,113 556,120.2 574.7,119.2 592.9,123.1 611.1,123.1 629.7,124.3 648,126.5 666.8,127.7" fill="none" stroke="#000" stroke-width="0.9"/>
<circle cx="409.6" cy="71.5" r="3.7" fill="#000"/>
<circle cx="427.6" cy="81.5" r="3.7" fill="#000"/>
<circle cx="445.9" cy="83.8" r="3.7" fill="#000"/>
<circle cx="464.7" cy="92.3" r="3.7" fill="#000"/>
<circle cx="501" cy="103.4" r="3.7" fill="#000"/>
<circle cx="519.7" cy="143.9" r="3.7" fill="#000"/>
<circle cx="538.1" cy="113" r="3.7" fill="#000"/>
<circle cx="556" cy="120.2" r="3.7" fill="#000"/>
<circle cx="574.7" cy="119.2" r="3.7" fill="#000"/>
<circle cx="592.9" cy="123.1" r="3.7" fill="#000"/>
<circle cx="611.1" cy="123.1" r="3.7" fill="#000"/>
<circle cx="629.7" cy="124.3" r="3.7" fill="#000"/>
<circle cx="648" cy="126.5" r="3.7" fill="#000"/>
<circle cx="666.8" cy="127.7" r="3.7" fill="#000"/>
<polyline points="409.6,101.5 427.6,103.2 445.9,106.8 464.7,111.8 501,126.4 519.7,137.6 538.1,136.8 556,140.4 574.7,145 592.9,145.3 611.1,146.8 629.7,146.6 648,147.6 666.8,147.2" fill="none" stroke="#000" stroke-width="0.9"/>
<polyline points="409.6,100.3 427.6,102.4 445.9,106 464.7,111 501,125.6 519.7,136.8 538.1,136 556,139.6 574.7,144.2 592.9,144.5 611.1,146 629.7,145.2 648,146.8 666.8,146.2" fill="none" stroke="#000" stroke-width="0.9"/>
<polyline points="409.6,99 427.6,100.6 445.9,104 464.7,107.7 501,122.8 519.7,134.2 538.1,129.8 556,136 574.7,138.4 592.9,140.5 611.1,142.7 629.7,140 648,144.3 666.8,141" fill="none" stroke="#000" stroke-width="0.9"/>
<polyline points="409.6,97.5 427.6,100 445.9,103.4 464.7,107.1 501,122.2 519.7,133.6 538.1,129.2 556,135.4 574.7,137.8 592.9,139.7 611.1,141.5 629.7,139.3 648,143.5 666.8,140.3" fill="none" stroke="#000" stroke-width="0.9"/>
<polyline points="409.6,96.3 427.6,97.4 445.9,100.3 464.7,104.8 501,115.2 519.7,130.6 538.1,124.6 556,132 574.7,133.4 592.9,134.8 611.1,136.2 629.7,135.2 648,138 666.8,137.3" fill="none" stroke="#000" stroke-width="0.9"/>
<polyline points="409.6,91.3 427.6,96.8 445.9,99.7 464.7,104.2 501,114.5 519.7,130 538.1,124 556,131.4 574.7,132.8 592.9,134 611.1,135.5 629.7,134.5 648,137 666.8,136.5" fill="none" stroke="#000" stroke-width="0.9"/>
<polyline points="409.6,84.2 427.6,86.3 445.9,88.1 464.7,95.3 501,109.6 519.7,124.4 538.1,118.3 556,123.4 574.7,128.5 592.9,131.3 611.1,132 629.7,132 648,135.1 666.8,134.3" fill="none" stroke="#000" stroke-width="0.9"/>
<circle cx="409.6" cy="101.5" r="3.05" fill="#fff" stroke="#111" stroke-width="1.05"/>
<circle cx="427.6" cy="103.2" r="3.05" fill="#fff" stroke="#111" stroke-width="1.05"/>
<circle cx="445.9" cy="106.8" r="3.05" fill="#fff" stroke="#111" stroke-width="1.05"/>
<circle cx="464.7" cy="111.8" r="3.05" fill="#fff" stroke="#111" stroke-width="1.05"/>
<circle cx="501" cy="126.4" r="3.05" fill="#fff" stroke="#111" stroke-width="1.05"/>
<circle cx="519.7" cy="137.6" r="3.05" fill="#fff" stroke="#111" stroke-width="1.05"/>
<circle cx="538.1" cy="136.8" r="3.05" fill="#fff" stroke="#111" stroke-width="1.05"/>
<circle cx="556" cy="140.4" r="3.05" fill="#fff" stroke="#111" stroke-width="1.05"/>
<circle cx="574.7" cy="145" r="3.05" fill="#fff" stroke="#111" stroke-width="1.05"/>
<circle cx="592.9" cy="145.3" r="3.05" fill="#fff" stroke="#111" stroke-width="1.05"/>
<circle cx="611.1" cy="146.8" r="3.05" fill="#fff" stroke="#111" stroke-width="1.05"/>
<circle cx="629.7" cy="146.6" r="3.05" fill="#fff" stroke="#111" stroke-width="1.05"/>
<circle cx="648" cy="147.6" r="3.05" fill="#fff" stroke="#111" stroke-width="1.05"/>
<circle cx="666.8" cy="147.2" r="3.05" fill="#fff" stroke="#111" stroke-width="1.05"/>
<circle cx="409.6" cy="100.3" r="3.05" fill="#fff" stroke="#111" stroke-width="1.05"/>
<circle cx="427.6" cy="102.4" r="3.05" fill="#fff" stroke="#111" stroke-width="1.05"/>
<circle cx="445.9" cy="106" r="3.05" fill="#fff" stroke="#111" stroke-width="1.05"/>
<circle cx="464.7" cy="111" r="3.05" fill="#fff" stroke="#111" stroke-width="1.05"/>
<circle cx="501" cy="125.6" r="3.05" fill="#fff" stroke="#111" stroke-width="1.05"/>
<circle cx="519.7" cy="136.8" r="3.05" fill="#fff" stroke="#111" stroke-width="1.05"/>
<circle cx="538.1" cy="136" r="3.05" fill="#fff" stroke="#111" stroke-width="1.05"/>
<circle cx="556" cy="139.6" r="3.05" fill="#fff" stroke="#111" stroke-width="1.05"/>
<circle cx="574.7" cy="144.2" r="3.05" fill="#fff" stroke="#111" stroke-width="1.05"/>
<circle cx="592.9" cy="144.5" r="3.05" fill="#fff" stroke="#111" stroke-width="1.05"/>
<circle cx="611.1" cy="146" r="3.05" fill="#fff" stroke="#111" stroke-width="1.05"/>
<circle cx="629.7" cy="145.2" r="3.05" fill="#fff" stroke="#111" stroke-width="1.05"/>
<circle cx="648" cy="146.8" r="3.05" fill="#fff" stroke="#111" stroke-width="1.05"/>
<circle cx="666.8" cy="146.2" r="3.05" fill="#fff" stroke="#111" stroke-width="1.05"/>
<circle cx="409.6" cy="99" r="3.05" fill="#fff" stroke="#111" stroke-width="1.05"/>
<circle cx="427.6" cy="100.6" r="3.05" fill="#fff" stroke="#111" stroke-width="1.05"/>
<circle cx="445.9" cy="104" r="3.05" fill="#fff" stroke="#111" stroke-width="1.05"/>
<circle cx="464.7" cy="107.7" r="3.05" fill="#fff" stroke="#111" stroke-width="1.05"/>
<circle cx="501" cy="122.8" r="3.05" fill="#fff" stroke="#111" stroke-width="1.05"/>
<circle cx="519.7" cy="134.2" r="3.05" fill="#fff" stroke="#111" stroke-width="1.05"/>
<circle cx="538.1" cy="129.8" r="3.05" fill="#fff" stroke="#111" stroke-width="1.05"/>
<circle cx="556" cy="136" r="3.05" fill="#fff" stroke="#111" stroke-width="1.05"/>
<circle cx="574.7" cy="138.4" r="3.05" fill="#fff" stroke="#111" stroke-width="1.05"/>
<circle cx="592.9" cy="140.5" r="3.05" fill="#fff" stroke="#111" stroke-width="1.05"/>
<circle cx="611.1" cy="142.7" r="3.05" fill="#fff" stroke="#111" stroke-width="1.05"/>
<circle cx="629.7" cy="140" r="3.05" fill="#fff" stroke="#111" stroke-width="1.05"/>
<circle cx="648" cy="144.3" r="3.05" fill="#fff" stroke="#111" stroke-width="1.05"/>
<circle cx="666.8" cy="141" r="3.05" fill="#fff" stroke="#111" stroke-width="1.05"/>
<circle cx="409.6" cy="97.5" r="3.05" fill="#fff" stroke="#111" stroke-width="1.05"/>
<circle cx="427.6" cy="100" r="3.05" fill="#fff" stroke="#111" stroke-width="1.05"/>
<circle cx="445.9" cy="103.4" r="3.05" fill="#fff" stroke="#111" stroke-width="1.05"/>
<circle cx="464.7" cy="107.1" r="3.05" fill="#fff" stroke="#111" stroke-width="1.05"/>
<circle cx="501" cy="122.2" r="3.05" fill="#fff" stroke="#111" stroke-width="1.05"/>
<circle cx="519.7" cy="133.6" r="3.05" fill="#fff" stroke="#111" stroke-width="1.05"/>
<circle cx="538.1" cy="129.2" r="3.05" fill="#fff" stroke="#111" stroke-width="1.05"/>
<circle cx="556" cy="135.4" r="3.05" fill="#fff" stroke="#111" stroke-width="1.05"/>
<circle cx="574.7" cy="137.8" r="3.05" fill="#fff" stroke="#111" stroke-width="1.05"/>
<circle cx="592.9" cy="139.7" r="3.05" fill="#fff" stroke="#111" stroke-width="1.05"/>
<circle cx="611.1" cy="141.5" r="3.05" fill="#fff" stroke="#111" stroke-width="1.05"/>
<circle cx="629.7" cy="139.3" r="3.05" fill="#fff" stroke="#111" stroke-width="1.05"/>
<circle cx="648" cy="143.5" r="3.05" fill="#fff" stroke="#111" stroke-width="1.05"/>
<circle cx="666.8" cy="140.3" r="3.05" fill="#fff" stroke="#111" stroke-width="1.05"/>
<circle cx="409.6" cy="96.3" r="3.05" fill="#fff" stroke="#111" stroke-width="1.05"/>
<circle cx="427.6" cy="97.4" r="3.05" fill="#fff" stroke="#111" stroke-width="1.05"/>
<circle cx="445.9" cy="100.3" r="3.05" fill="#fff" stroke="#111" stroke-width="1.05"/>
<circle cx="464.7" cy="104.8" r="3.05" fill="#fff" stroke="#111" stroke-width="1.05"/>
<circle cx="501" cy="115.2" r="3.05" fill="#fff" stroke="#111" stroke-width="1.05"/>
<circle cx="519.7" cy="130.6" r="3.05" fill="#fff" stroke="#111" stroke-width="1.05"/>
<circle cx="538.1" cy="124.6" r="3.05" fill="#fff" stroke="#111" stroke-width="1.05"/>
<circle cx="556" cy="132" r="3.05" fill="#fff" stroke="#111" stroke-width="1.05"/>
<circle cx="574.7" cy="133.4" r="3.05" fill="#fff" stroke="#111" stroke-width="1.05"/>
<circle cx="592.9" cy="134.8" r="3.05" fill="#fff" stroke="#111" stroke-width="1.05"/>
<circle cx="611.1" cy="136.2" r="3.05" fill="#fff" stroke="#111" stroke-width="1.05"/>
<circle cx="629.7" cy="135.2" r="3.05" fill="#fff" stroke="#111" stroke-width="1.05"/>
<circle cx="648" cy="138" r="3.05" fill="#fff" stroke="#111" stroke-width="1.05"/>
<circle cx="666.8" cy="137.3" r="3.05" fill="#fff" stroke="#111" stroke-width="1.05"/>
<circle cx="409.6" cy="91.3" r="3.05" fill="#fff" stroke="#111" stroke-width="1.05"/>
<circle cx="427.6" cy="96.8" r="3.05" fill="#fff" stroke="#111" stroke-width="1.05"/>
<circle cx="445.9" cy="99.7" r="3.05" fill="#fff" stroke="#111" stroke-width="1.05"/>
<circle cx="464.7" cy="104.2" r="3.05" fill="#fff" stroke="#111" stroke-width="1.05"/>
<circle cx="501" cy="114.5" r="3.05" fill="#fff" stroke="#111" stroke-width="1.05"/>
<circle cx="519.7" cy="130" r="3.05" fill="#fff" stroke="#111" stroke-width="1.05"/>
<circle cx="538.1" cy="124" r="3.05" fill="#fff" stroke="#111" stroke-width="1.05"/>
<circle cx="556" cy="131.4" r="3.05" fill="#fff" stroke="#111" stroke-width="1.05"/>
<circle cx="574.7" cy="132.8" r="3.05" fill="#fff" stroke="#111" stroke-width="1.05"/>
<circle cx="592.9" cy="134" r="3.05" fill="#fff" stroke="#111" stroke-width="1.05"/>
<circle cx="611.1" cy="135.5" r="3.05" fill="#fff" stroke="#111" stroke-width="1.05"/>
<circle cx="629.7" cy="134.5" r="3.05" fill="#fff" stroke="#111" stroke-width="1.05"/>
<circle cx="648" cy="137" r="3.05" fill="#fff" stroke="#111" stroke-width="1.05"/>
<circle cx="666.8" cy="136.5" r="3.05" fill="#fff" stroke="#111" stroke-width="1.05"/>
<circle cx="409.6" cy="84.2" r="3.05" fill="#fff" stroke="#111" stroke-width="1.05"/>
<circle cx="427.6" cy="86.3" r="3.05" fill="#fff" stroke="#111" stroke-width="1.05"/>
<circle cx="445.9" cy="88.1" r="3.05" fill="#fff" stroke="#111" stroke-width="1.05"/>
<circle cx="464.7" cy="95.3" r="3.05" fill="#fff" stroke="#111" stroke-width="1.05"/>
<circle cx="501" cy="109.6" r="3.05" fill="#fff" stroke="#111" stroke-width="1.05"/>
<circle cx="519.7" cy="124.4" r="3.05" fill="#fff" stroke="#111" stroke-width="1.05"/>
<circle cx="538.1" cy="118.3" r="3.05" fill="#fff" stroke="#111" stroke-width="1.05"/>
<circle cx="556" cy="123.4" r="3.05" fill="#fff" stroke="#111" stroke-width="1.05"/>
<circle cx="574.7" cy="128.5" r="3.05" fill="#fff" stroke="#111" stroke-width="1.05"/>
<circle cx="592.9" cy="131.3" r="3.05" fill="#fff" stroke="#111" stroke-width="1.05"/>
<circle cx="611.1" cy="132" r="3.05" fill="#fff" stroke="#111" stroke-width="1.05"/>
<circle cx="629.7" cy="132" r="3.05" fill="#fff" stroke="#111" stroke-width="1.05"/>
<circle cx="648" cy="135.1" r="3.05" fill="#fff" stroke="#111" stroke-width="1.05"/>
<circle cx="666.8" cy="134.3" r="3.05" fill="#fff" stroke="#111" stroke-width="1.05"/>
<text transform="matrix(0.945 0.0005 0 1 410.3 248.8)" font-size="11.8" text-anchor="middle" fill="#000">La</text>
<text transform="matrix(0.945 0.0005 0 1 428.3 268.4)" font-size="11.8" text-anchor="middle" fill="#000">Ce</text>
<text transform="matrix(0.945 0.0005 0 1 446.6 248.8)" font-size="11.8" text-anchor="middle" fill="#000">Pr</text>
<text transform="matrix(0.945 0.0005 0 1 465.4 268.4)" font-size="11.8" text-anchor="middle" fill="#000">Nd</text>
<text transform="matrix(0.945 0.0005 0 1 501.7 268.4)" font-size="11.8" text-anchor="middle" fill="#000">Sm</text>
<text transform="matrix(0.945 0.0005 0 1 520.4 248.8)" font-size="11.8" text-anchor="middle" fill="#000">Eu</text>
<text transform="matrix(0.945 0.0005 0 1 538.8 268.4)" font-size="11.8" text-anchor="middle" fill="#000">Gd</text>
<text transform="matrix(0.945 0.0005 0 1 556.7 248.8)" font-size="11.8" text-anchor="middle" fill="#000">Tb</text>
<text transform="matrix(0.945 0.0005 0 1 575.4 268.4)" font-size="11.8" text-anchor="middle" fill="#000">Dy</text>
<text transform="matrix(0.945 0.0005 0 1 593.6 248.8)" font-size="11.8" text-anchor="middle" fill="#000">Ho</text>
<text transform="matrix(0.945 0.0005 0 1 611.8 268.4)" font-size="11.8" text-anchor="middle" fill="#000">Er</text>
<text transform="matrix(0.945 0.0005 0 1 630.4 248.8)" font-size="11.8" text-anchor="middle" fill="#000">Tm</text>
<text transform="matrix(0.945 0.0005 0 1 648.7 268.4)" font-size="11.8" text-anchor="middle" fill="#000">Yb</text>
<text transform="matrix(0.945 0.0005 0 1 667.5 248.8)" font-size="11.8" text-anchor="middle" fill="#000">Lu</text>
<text transform="matrix(1.0 0.0005 0 1 385 6.9)" font-size="9.8" text-anchor="end" fill="#000">500</text>
<text transform="matrix(1.0 0.0005 0 1 385 65.7)" font-size="9.8" text-anchor="end" fill="#000">100</text>
<text transform="matrix(1.0 0.0005 0 1 385 151.6)" font-size="9.8" text-anchor="end" fill="#000">10</text>
<text transform="matrix(1.0 0.0005 0 1 385 235.75)" font-size="9.8" text-anchor="end" fill="#000">1</text>
<text transform="translate(362.6,172.2) rotate(-90)" font-size="14" font-weight="bold" fill="#000" textLength="108.6" lengthAdjust="spacingAndGlyphs">Sample/Chondrite</text>
<circle cx="659.5" cy="28.2" r="11" fill="#fff" stroke="#111" stroke-width="1.1"/>
<text transform="matrix(1.0 0.0005 0 1 659.5 33.3)" font-size="14.5" font-weight="bold" text-anchor="middle" fill="#000">B</text>
<rect x="436.2" y="22.55" width="188" height="25.8" fill="#fff" stroke="#222" stroke-width="0.9"/>
<ellipse cx="449" cy="31.1" rx="8.7" ry="3.5" fill="#cbcbcb"/>
<text transform="matrix(1.0 0.0005 0 1 465 33.5)" font-size="9" fill="#111" textLength="156.7" lengthAdjust="spacingAndGlyphs">- Active continental margin-Continental arc</text>
<text transform="matrix(1.0 0.0005 0 1 470 43.1)" font-size="9" fill="#111" textLength="145.2" lengthAdjust="spacingAndGlyphs">(Andes calc-alkaline basaltic andesites)</text>
<rect x="499.1" y="187.7" width="77.2" height="27.7" fill="#fff" stroke="#555" stroke-width="0.7"/>
<circle cx="506.3" cy="195.9" r="3.75" fill="#fff" stroke="#111" stroke-width="1.1"/>
<circle cx="506.3" cy="208" r="4.25" fill="#000"/>
<text transform="matrix(1.0 0.0005 0 1 514.3 199.2)" font-size="11" fill="#111" textLength="60.2" lengthAdjust="spacingAndGlyphs">- basaltic lavas</text>
<text transform="matrix(1.0 0.0005 0 1 514.3 211.3)" font-size="11" fill="#111" textLength="17.5" lengthAdjust="spacingAndGlyphs">- tuff</text>
</svg>
</body></html>
